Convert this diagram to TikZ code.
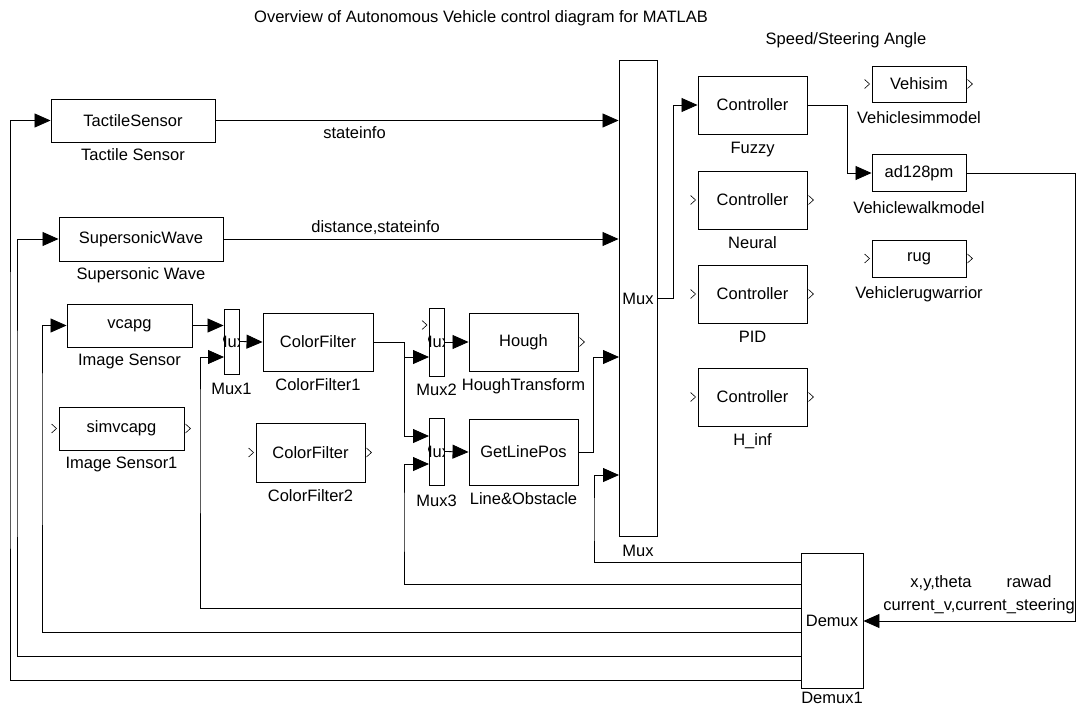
\documentclass[tikz,border=0pt]{standalone}
\usepackage{fontspec}
\setmainfont{Liberation Sans}
\usepackage{tikz}
\usetikzlibrary{arrows.meta, positioning, calc}
\newcommand{\blkfont}{\fontsize{16.5}{19}\selectfont}
% unconnected ports
\newcommand{\inport}[1]{\draw[port] ([xshift=-7pt,yshift=4.5pt]#1) -- ([xshift=-2pt]#1) -- ([xshift=-7pt,yshift=-4.5pt]#1);}
\newcommand{\outport}[1]{\draw[port] ([xshift=1pt,yshift=4.5pt]#1) -- ([xshift=6pt]#1) -- ([xshift=1pt,yshift=-4.5pt]#1);}

\begin{document}
\begin{tikzpicture}[x=1pt, y=-1pt,
        blk/.style={rectangle, draw, line width=0.9pt, inner sep=0pt, font=\blkfont},
        lbl/.style={inner sep=0pt, font=\blkfont},
        port/.style={line width=0.6pt},
        line/.style={draw, line width=0.8pt, -{Triangle[length=16pt,width=14pt]}},
        wire/.style={draw, line width=0.8pt}]
        \useasboundingbox (0,0) rectangle (1076,707);

        \node [lbl] (title) at (481,18) {Overview of Autonomous Vehicle control diagram for MATLAB};
        \node [lbl] (speed) at (846,40) {Speed/Steering Angle};

        % sensors
        \node [blk, minimum width=164pt, minimum height=43pt] (tactile) at (133,120.5) {TactileSensor};
        \node [lbl, below=6pt of tactile] (tactile_l) {Tactile Sensor};
        \node [blk, minimum width=164pt, minimum height=44pt] (supersonic) at (141,239) {SupersonicWave};
        \node [lbl, below=6pt of supersonic] (supersonic_l) {Supersonic Wave};
        \node [blk, minimum width=125pt, minimum height=43pt] (vcapg) at (129.5,325.5) {vcapg};
        \node [lbl, below=6pt of vcapg] (vcapg_l) {Image Sensor};
        \node [blk, minimum width=125pt, minimum height=43pt] (simvcapg) at (121.5,428.5) {simvcapg};
        \node [lbl, below=6pt of simvcapg] (simvcapg_l) {Image Sensor1};

        % image processing
        \node [blk, minimum width=15pt, minimum height=65pt] (mux1) at (231.5,341.5) {};
        \node [lbl, below=8pt of mux1] (mux1_l) {Mux1};
        \node [blk, minimum width=110pt, minimum height=58pt] (cf1) at (318,342) {ColorFilter};
        \node [lbl, below=7pt of cf1] (cf1_l) {ColorFilter1};
        \node [blk, minimum width=109pt, minimum height=59pt] (cf2) at (310.5,452.5) {ColorFilter};
        \node [lbl, below=7pt of cf2] (cf2_l) {ColorFilter2};
        \node [blk, minimum width=15pt, minimum height=68pt] (mux2) at (436.5,342) {};
        \node [lbl, below=7pt of mux2] (mux2_l) {Mux2};
        \node [blk, minimum width=109pt, minimum height=58pt] (hough) at (523.5,342) {Hough};
        \node [lbl, below=7pt of hough] (hough_l) {HoughTransform};
        \node [blk, minimum width=15pt, minimum height=67pt] (mux3) at (436.5,451.5) {};
        \node [lbl, below=9pt of mux3] (mux3_l) {Mux3};
        \node [blk, minimum width=109pt, minimum height=66pt] (getline) at (523.5,452) {GetLinePos};
        \node [lbl, below=7pt of getline] (getline_l) {Line\&Obstacle};

        % clipped text of the thin muxes
        \foreach \m in {mux1, mux2, mux3} {
            \begin{scope}
                \clip (\m.south west) rectangle (\m.north east);
                \node [lbl] (\m_t) at ([xshift=-2pt]\m.center) {Mux};
            \end{scope}
        }

        % mux and controllers
        \node [blk, minimum width=38pt, minimum height=476pt] (mux) at (638,298.5) {Mux};
        \node [lbl, below=8pt of mux] (mux_l) {Mux};
        \node [blk, minimum width=109pt, minimum height=58pt] (fuzzy) at (752.5,105) {Controller};
        \node [lbl, below=7pt of fuzzy] (fuzzy_l) {Fuzzy};
        \node [blk, minimum width=109pt, minimum height=58pt] (neural) at (752.5,200) {Controller};
        \node [lbl, below=7pt of neural] (neural_l) {Neural};
        \node [blk, minimum width=109pt, minimum height=58pt] (pid) at (752.5,294) {Controller};
        \node [lbl, below=7pt of pid] (pid_l) {PID};
        \node [blk, minimum width=109pt, minimum height=58pt] (hinf) at (752.5,397) {Controller};
        \node [lbl, below=7pt of hinf] (hinf_l) {H\_inf};

        % vehicle models
        \node [blk, minimum width=94pt, minimum height=36pt] (vehisim) at (919,84) {Vehisim};
        \node [lbl, below=9pt of vehisim] (vehisim_l) {Vehiclesimmodel};
        \node [blk, minimum width=94pt, minimum height=37pt] (ad128pm) at (919,173) {ad128pm};
        \node [lbl, below=9pt of ad128pm] (ad128pm_l) {Vehiclewalkmodel};
        \node [blk, minimum width=94pt, minimum height=37pt] (rug) at (919,258.5) {rug};
        \node [lbl, below=9pt of rug] (rug_l) {Vehiclerugwarrior};

        \node [blk, minimum width=62pt, minimum height=135pt] (demux) at (832,621) {Demux};
        \node [lbl, below=3pt of demux] (demux_l) {Demux1};

        % ports
        \coordinate (mi3) at (619,357);
        \coordinate (mi4) at (619,475);
        \coordinate (m1i2) at (224,357);
        \coordinate (m2i1) at (429,325);
        \coordinate (m2i2) at (429,357);
        \coordinate (m3i1) at (429,436);
        \coordinate (m3i2) at (429,464);
        \coordinate (split) at (404,357);
        \foreach \y [count=\i] in {562,584,608,632,656,680}
            \coordinate (do\i) at (801,\y);

        \foreach \b in {simvcapg, cf2, neural, pid, hinf, vehisim, rug} {
            \inport{\b.west}
            \outport{\b.east}
        }
        \inport{m2i1}
        \outport{hough.east}

        % signals
        \path [line] (tactile.east) -- (tactile.east -| mux.west)
            node [lbl, pos=0.345, below=6pt] (stateinfo) {stateinfo};
        \path [line] (supersonic.east) -- (supersonic.east -| mux.west)
            node [lbl, pos=0.385, above=4pt] (diststate) {distance,stateinfo};
        \path [line] (vcapg.east) -- (vcapg.east -| mux1.west);
        \path [line] (mux1.east) -- (cf1.west);
        \path [wire] (cf1.east) -| (split);
        \path [line] (split) -- (m2i2);
        \path [line] (split) |- (m3i1);
        \path [line] (mux2.east) -- (hough.west);
        \path [line] (mux3.east) -- (getline.west);
        \path [line] (getline.east) -- ++(15,0) |- (mi3);
        \path [line] (mux.east) -- ++(16,0) |- (fuzzy.west);
        \path [line] (fuzzy.east) -- ++(40,0) |- (ad128pm.west);
        \path [line] (ad128pm.east) -- (1075,173) |- (demux.east);
        \node [lbl] (xyth) at (941,583) {x,y,theta};
        \node [lbl] (rawad) at (1029,582) {rawad};
        \node [lbl] (curv) at (979,606) {current\_v,current\_steering};

        % feedback from demux
        \path [line] (do1) -| (594,520) |- (mi4);
        \path [line] (do2) -| (404,520) |- (m3i2);
        \path [line] (do3) -| (200,420) |- (m1i2);
        \path [line] (do4) -| (42,420) |- (vcapg.west);
        \path [line] (do5) -| (17,420) |- (supersonic.west);
        \path [line] (do6) -| (10,420) |- (tactile.west);
    \end{tikzpicture}
\end{document}
